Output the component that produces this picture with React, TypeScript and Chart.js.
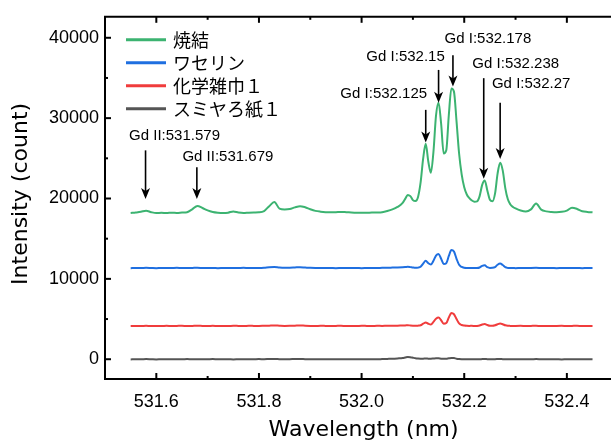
import React, { useEffect, useRef } from "react";
import { Chart, registerables } from "chart.js";

Chart.register(...registerables);

// ---------- data ----------
const wavelength = [
  531.55, 531.56, 531.57, 531.58, 531.59, 531.6, 531.61, 531.62, 531.63, 531.64,
  531.65, 531.66, 531.67, 531.68, 531.69, 531.7, 531.71, 531.72, 531.73, 531.74,
  531.75, 531.76, 531.77, 531.78, 531.79, 531.8, 531.81, 531.82, 531.83, 531.84,
  531.85, 531.86, 531.87, 531.88, 531.89, 531.9, 531.91, 531.92, 531.93, 531.94,
  531.95, 531.96, 531.97, 531.98, 531.99, 532.0, 532.01, 532.02, 532.03, 532.04,
  532.05, 532.06, 532.07, 532.08,
  532.085, 532.09, 532.095, 532.1, 532.105, 532.11, 532.115, 532.12, 532.125, 532.13,
  532.135, 532.14, 532.145, 532.15, 532.155, 532.16, 532.165, 532.17, 532.175, 532.18,
  532.185, 532.19, 532.195, 532.2, 532.205, 532.21, 532.215, 532.22, 532.225, 532.23,
  532.235, 532.24, 532.245, 532.25, 532.255, 532.26, 532.265, 532.27, 532.275, 532.28,
  532.285, 532.29, 532.295, 532.3,
  532.31, 532.32, 532.33, 532.34, 532.35, 532.36, 532.37, 532.38, 532.39, 532.4,
  532.41, 532.42, 532.43, 532.44, 532.45,
];

const sintered = [
  18200, 18260, 18340, 18480, 18300, 18190, 18230, 18190, 18240, 18210,
  18250, 18300, 18650, 19080, 18820, 18520, 18330, 18240, 18200, 18240,
  18390, 18250, 18190, 18240, 18270, 18290, 18440, 19050, 19560, 18740,
  18640, 18690, 18900, 19050, 18910, 18660, 18460, 18360, 18300, 18280,
  18300, 18330, 18300, 18260, 18230, 18220, 18230, 18250, 18260, 18300,
  18440, 18640, 18950, 19450,
  19950, 20450, 20300, 19800, 19680, 20200, 22000, 25000, 26800, 24600,
  23200, 25800, 30300, 31900, 29300, 25600, 26000, 30400, 33700, 33300,
  29600, 25600, 23000, 21400, 20500, 20050, 19750, 19600, 19650, 20300,
  21700, 22250, 21000, 19850, 19650, 20600, 23100, 24450, 23500, 21300,
  19900, 19250, 18950, 18760,
  18500, 18380, 18650, 19380, 18620, 18400, 18320, 18290, 18340, 18500,
  18850, 18700, 18420, 18330, 18280,
];

const vaseline = [
  11330, 11360, 11340, 11370, 11350, 11330, 11360, 11340, 11350, 11370,
  11340, 11350, 11360, 11380, 11350, 11340, 11360, 11330, 11350, 11360,
  11340, 11350, 11370, 11340, 11360, 11350, 11380, 11450, 11480, 11400,
  11370, 11390, 11420, 11450, 11410, 11370, 11350, 11340, 11360, 11350,
  11330, 11350, 11360, 11340, 11350, 11330, 11350, 11360, 11340, 11370,
  11380, 11400, 11420, 11450,
  11470, 11500, 11460, 11410, 11380, 11400, 11500, 11900, 12250, 11950,
  11800, 12250, 12900, 13100, 12500, 11850, 11950, 12850, 13600, 13400,
  12500, 11750, 11480, 11380, 11350, 11340, 11360, 11340, 11350, 11420,
  11620, 11680, 11450, 11360, 11370, 11460, 11760, 11900, 11720, 11450,
  11360, 11340, 11350, 11330,
  11350, 11340, 11360, 11370, 11350, 11340, 11360, 11330, 11350, 11360,
  11340, 11350, 11330, 11350, 11340,
];

const chemCloth = [
  4130, 4150, 4140, 4160, 4140, 4150, 4130, 4160, 4140, 4150,
  4160, 4140, 4150, 4170, 4150, 4140, 4160, 4130, 4150, 4140,
  4160, 4150, 4140, 4160, 4150, 4140, 4160, 4180, 4200, 4170,
  4150, 4160, 4180, 4200, 4170, 4150, 4140, 4160, 4150, 4140,
  4150, 4160, 4140, 4150, 4140, 4160, 4150, 4140, 4160, 4150,
  4170, 4160, 4180, 4200,
  4210, 4230, 4200, 4180, 4170, 4180, 4230, 4420, 4580, 4420,
  4330, 4650, 5050, 5200, 4850, 4420, 4500, 5200, 5750, 5600,
  5000, 4450, 4260, 4190, 4160, 4150, 4160, 4140, 4150, 4200,
  4320, 4380, 4260, 4170, 4160, 4220, 4360, 4440, 4350, 4220,
  4160, 4150, 4140, 4150,
  4160, 4140, 4150, 4160, 4140, 4150, 4130, 4150, 4160, 4140,
  4150, 4160, 4140, 4150, 4140,
];

const sumiyaPaper = [
  -20, 10, -10, 20, 0, -20, 10, -10, 10, 0,
  -10, 20, 0, 10, -10, 0, 20, -10, 0, 10,
  -20, 0, 10, -10, 0, 20, 0, 30, 40, 10,
  0, 10, 20, 30, 10, 0, -10, 10, 0, -10,
  0, 10, -10, 0, 10, -10, 0, 10, 0, 20,
  40, 60, 100, 150,
  220, 290, 260, 190, 120, 80, 60, 70, 90, 70,
  60, 90, 120, 110, 70, 50, 70, 120, 160, 140,
  70, 30, 10, 0, -10, 10, 0, -10, 10, 0,
  20, 30, 10, 0, -10, 10, 20, 30, 10, 0,
  -10, 10, 0, -10,
  10, 0, -10, 20, 0, -10, 10, 0, -20, 10,
  0, -10, 10, 0, -10,
];

const seriesNames = ["焼結", "ワセリン", "化学雑巾１", "スミヤろ紙１"];
const seriesColors = ["#3CB371", "#1F6FE0", "#F03C3C", "#555555"];

const xMajorTicks = [531.6, 531.8, 532.0, 532.2, 532.4];
const xMinorTicks = [531.5, 531.7, 531.9, 532.1, 532.3];
const yMajorTicks = [0, 10000, 20000, 30000, 40000];
const yMinorTicks = [5000, 15000, 25000, 35000];

const annWavelength = [531.579, 531.679, 532.125, 532.15, 532.178, 532.238, 532.27];
const annLabel = [
  "Gd II:531.579",
  "Gd II:531.679",
  "Gd I:532.125",
  "Gd I:532.15",
  "Gd I:532.178",
  "Gd I:532.238",
  "Gd I:532.27",
];
const annArrowTop = [25990, 23890, 31030, 36000, 37840, 34975, 31900];
const annArrowTip = [19950, 19950, 26970, 31900, 33950, 22450, 24910];
const annLabelY = [27830, 25120, 33040, 37650, 39900, 36700, 34240];
const annLabelDx = [29, 31, -42, -33, 35, 32, 31];

const xTitle = "Wavelength (nm)";
const yTitle = "Intensity (count)";

// ---------- plugin ----------
const decorPlugin = {
  id: "decor",
  afterDraw(chart: any) {
    const { ctx, chartArea: ca } = chart;
    const x = chart.scales.x;
    const y = chart.scales.y;
    ctx.save();
    ctx.strokeStyle = "#000";
    ctx.fillStyle = "#000";
    ctx.lineWidth = 2;
    const seg = (x1: number, y1: number, x2: number, y2: number) => {
      ctx.beginPath();
      ctx.moveTo(x1, y1);
      ctx.lineTo(x2, y2);
      ctx.stroke();
    };
    // top frame line
    seg(ca.left - 1, ca.top, ca.right, ca.top);
    // inward ticks
    for (const v of xMajorTicks) {
      const px = x.getPixelForValue(v);
      seg(px, ca.bottom, px, ca.bottom - 6);
      seg(px, ca.top, px, ca.top + 6);
    }
    for (const v of xMinorTicks) {
      const px = x.getPixelForValue(v);
      if (px <= ca.left + 2) continue;
      seg(px, ca.bottom, px, ca.bottom - 3);
      seg(px, ca.top, px, ca.top + 3);
    }
    for (const v of yMajorTicks) {
      const py = y.getPixelForValue(v);
      seg(ca.left, py, ca.left + 6, py);
    }
    for (const v of yMinorTicks) {
      const py = y.getPixelForValue(v);
      seg(ca.left, py, ca.left + 3, py);
    }

    // legend
    ctx.font = '18px "Noto Sans CJK JP"';
    ctx.textAlign = "left";
    ctx.textBaseline = "middle";
    chart.data.datasets.forEach((ds: any, i: number) => {
      const ly = ca.top + 23 + i * 23;
      ctx.strokeStyle = ds.borderColor;
      ctx.lineWidth = 3;
      seg(ca.left + 21, ly, ca.left + 61, ly);
      ctx.fillStyle = "#000";
      ctx.fillText(ds.label, ca.left + 68, ly);
    });

    // annotations
    ctx.strokeStyle = "#000";
    ctx.fillStyle = "#000";
    ctx.font = '15px "Liberation Sans", Arial, sans-serif';
    ctx.textAlign = "center";
    ctx.textBaseline = "middle";
    annWavelength.forEach((w, i) => {
      const px = x.getPixelForValue(w);
      const top = y.getPixelForValue(annArrowTop[i]);
      const tip = y.getPixelForValue(annArrowTip[i]);
      ctx.lineWidth = 1.6;
      seg(px, top, px, tip - 6);
      ctx.beginPath();
      ctx.moveTo(px, tip);
      ctx.lineTo(px - 4.5, tip - 11);
      ctx.lineTo(px, tip - 8);
      ctx.lineTo(px + 4.5, tip - 11);
      ctx.closePath();
      ctx.fill();
      ctx.fillText(annLabel[i], px + annLabelDx[i], y.getPixelForValue(annLabelY[i]));
    });

    // axis titles
    ctx.fillStyle = "#000";
    ctx.font = '22px "DejaVu Sans", sans-serif';
    ctx.textAlign = "center";
    ctx.textBaseline = "alphabetic";
    ctx.fillText(xTitle, x.getPixelForValue(532.0) + 2, 436);
    ctx.save();
    ctx.translate(27, (ca.top + ca.bottom) / 2 - 4);
    ctx.rotate(-Math.PI / 2);
    ctx.font = '22px "DejaVu Sans", sans-serif';
    ctx.fillText(yTitle, 0, 0);
    ctx.restore();

    ctx.restore();
  },
};

export default function App() {
  const canvasRef = useRef<HTMLCanvasElement | null>(null);

  useEffect(() => {
    const canvas = canvasRef.current;
    if (!canvas) return;
    const seriesValues = [sintered, vaseline, chemCloth, sumiyaPaper];
    const chart = new Chart(canvas, {
      type: "line",
      data: {
        datasets: seriesValues.map((vals, i) => ({
          label: seriesNames[i],
          data: vals.map((v, j) => ({ x: wavelength[j], y: v })),
          borderColor: seriesColors[i],
          backgroundColor: seriesColors[i],
          borderWidth: 2,
          pointRadius: 0,
          cubicInterpolationMode: "monotone" as const,
          fill: false,
        })),
      },
      options: {
        animation: false,
        responsive: false,
        devicePixelRatio: 1,
        layout: { padding: { left: 0, right: 0, top: 13, bottom: 0 } },
        plugins: {
          legend: { display: false },
          tooltip: { enabled: false },
        },
        scales: {
          x: {
            type: "linear",
            min: 531.5,
            max: 532.486,
            grid: { display: false, drawTicks: false },
            border: { display: true, color: "#000", width: 2 },
            afterBuildTicks: (scale: any) => {
              scale.ticks = xMajorTicks.map((v) => ({ value: v }));
            },
            afterFit: (scale: any) => {
              scale.height = 62;
            },
            ticks: {
              autoSkip: false,
              maxRotation: 0,
              padding: 12,
              color: "#000",
              font: { family: '"Liberation Sans", Arial, sans-serif', size: 18 },
              callback: (v: any) => Number(v).toFixed(1),
            },
          },
          y: {
            type: "linear",
            min: -2460,
            max: 42610,
            grid: { display: false, drawTicks: false },
            border: { display: true, color: "#000", width: 2 },
            afterBuildTicks: (scale: any) => {
              scale.ticks = yMajorTicks.map((v) => ({ value: v }));
            },
            afterFit: (scale: any) => {
              scale.width = 105;
            },
            ticks: {
              autoSkip: false,
              padding: 6,
              color: "#000",
              font: { family: '"Liberation Sans", Arial, sans-serif', size: 18 },
              callback: (v: any) => String(v),
            },
          },
        },
      },
      plugins: [decorPlugin],
    });
    return () => chart.destroy();
  }, []);

  return (
    <div style={{ position: "absolute", left: 0, top: 0, width: 611, height: 441 }}>
      <canvas ref={canvasRef} width={611} height={441} style={{ display: "block" }} />
    </div>
  );
}
